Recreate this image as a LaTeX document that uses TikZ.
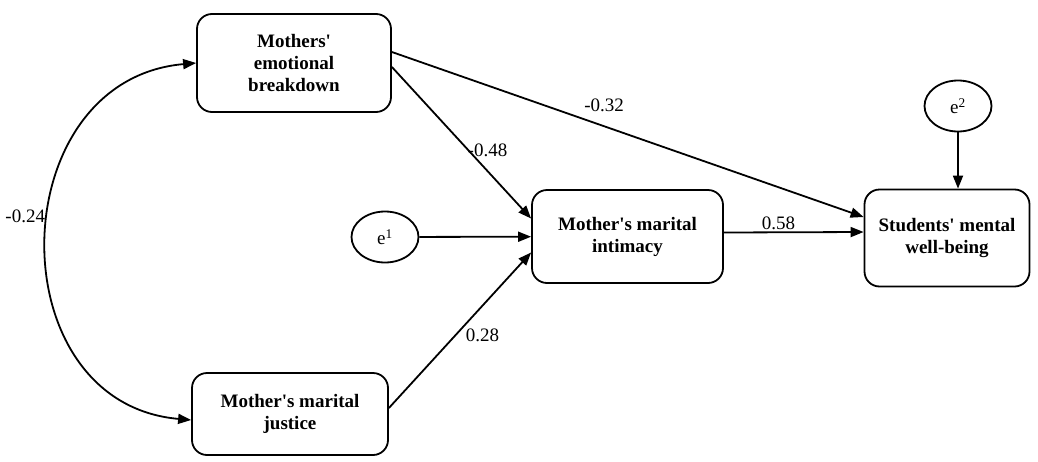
\documentclass[tikz,border=0pt]{standalone}
\usepackage{fontspec}
\setmainfont{Liberation Serif}
\usetikzlibrary{arrows.meta,shapes.geometric,calc}

\begin{document}
\begin{tikzpicture}[x=1pt, y=-1pt, >={Triangle[length=13pt,width=10pt]}, line width=1.8pt,
    var/.style={draw, rounded corners=15pt, align=center, inner sep=0pt, font=\fontsize{19}{22}\selectfont\bfseries},
    err/.style={draw, ellipse, minimum width=67pt, minimum height=51pt, inner sep=0pt, font=\fontsize{19}{22}\selectfont},
    coef/.style={font=\fontsize{19}{22}\selectfont}]
    \useasboundingbox (0,0) rectangle (1038,461);

    \node [var, minimum width=194pt, minimum height=98pt] (emo) at (294,63) {Mothers\textquotesingle\\emotional\\breakdown};
    \node [var, minimum width=196pt, minimum height=82pt] (jus) at (290,414) {Mother\textquotesingle s marital\\justice};
    \node [var, minimum width=191pt, minimum height=93pt] (inti) at (627.5,236.5) {Mother\textquotesingle s marital\\intimacy};
    \node [var, minimum width=165pt, minimum height=97pt] (stu) at (947,238) {Students\textquotesingle{} mental\\well-being};
    \node [err] (e1) at (385,237) {e\textsuperscript{1}};
    \node [err] (e2) at (958,106) {e\textsuperscript{2}};

    \path[->]
        ($(emo.east)+(0,-11)$) edge node[coef, pos=.45, above=10pt] {-0.32} ($(stu.west)+(0,-21)$)
        ($(emo.east)+(0,4)$) edge node[coef, pos=.55, right=-5pt] {-0.48} ($(inti.west)+(0,-18)$)
        (e1) edge (inti)
        ($(jus.east)+(0,-6)$) edge node[coef, pos=.47, right=6pt] {0.28} ($(inti.west)+(0,16)$)
        ($(inti.east)+(0,-4)$) edge node[coef, pos=.39, above=-2pt] {0.58} ($(stu.west)+(0,-6)$)
        (e2) edge (e2.south |- stu.north);

    \draw[<->] (emo.west) to[out=185, in=175, looseness=1.4] node[coef, pos=.45, left=0pt] {-0.24} ($(jus.west)+(0,6)$);
\end{tikzpicture}
\end{document}
